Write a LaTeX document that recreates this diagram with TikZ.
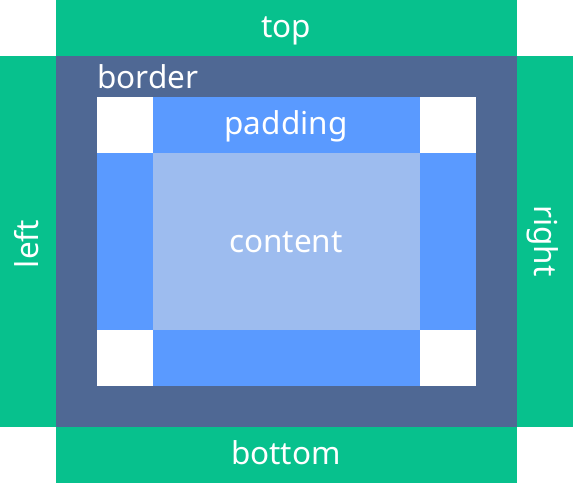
\documentclass[tikz,border=0pt]{standalone}
\usepackage{fontspec}
\setmainfont{Noto Sans}
\definecolor{grn}{HTML}{07C18D}
\definecolor{brd}{HTML}{4F6894}
\definecolor{pad}{HTML}{5A9AFF}
\definecolor{cnt}{HTML}{9DBCEF}
\begin{document}
\begin{tikzpicture}[x=1pt,y=-1pt,
  lbl/.style={text=white,font=\fontsize{31.5}{34}\selectfont,inner sep=0pt,anchor=base}]
\useasboundingbox (0,0) rectangle (573,483);
\fill[grn] (56,0) rectangle (517,56);
\fill[grn] (56,427) rectangle (517,483);
\fill[grn] (0,56) rectangle (56,427);
\fill[grn] (517,56) rectangle (573,427);
\fill[brd] (56,56) rectangle (517,427);
\fill[white] (97,97) rectangle (476,386);
\fill[pad] (153,97) rectangle (420,386);
\fill[pad] (97,153) rectangle (476,330);
\fill[cnt] (153,153) rectangle (420,330);
\node[lbl] (top) at (286,37) {top};
\node[lbl] (bottom) at (286,464) {bottom};
\node[lbl,rotate=90] (left) at (38,244) {left};
\node[lbl,rotate=-90] (right) at (534,241) {right};
\node[lbl,anchor=base west] (border) at (97,88) {border};
\node[lbl] (padding) at (286,134) {padding};
\node[lbl] (content) at (286,252) {content};
\end{tikzpicture}
\end{document}
